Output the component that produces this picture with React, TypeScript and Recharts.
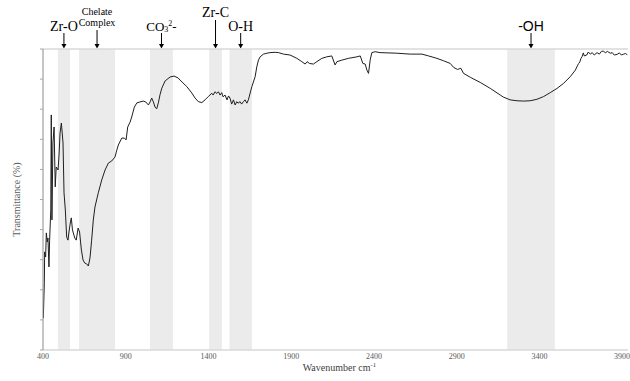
import {
  LineChart,
  Line,
  XAxis,
  YAxis,
  ReferenceArea,
  ReferenceLine,
} from "recharts";

// FTIR spectrum
const wavenumber = [
  402, 408, 410, 416, 420, 426, 430, 436, 440, 447, 450, 454, 460, 467, 474, 480,
  491, 497, 503, 511, 521, 527, 535, 543, 551, 557, 565, 571, 578, 592, 601, 612,
  621, 632, 642, 652, 664, 674, 684, 694, 704, 714, 734, 755, 775, 795, 815, 835,
  846, 855, 876, 892, 902, 912, 926, 936, 952, 967, 986, 1006, 1021, 1037, 1047, 1057,
  1067, 1077, 1087, 1097, 1107, 1118, 1138, 1168, 1192, 1216, 1228, 1269, 1299, 1319,
  1339, 1360, 1379, 1399, 1420, 1428, 1440, 1449, 1460, 1470, 1480, 1488, 1500, 1512,
  1521, 1530, 1540, 1551, 1561, 1571, 1579, 1591, 1600, 1611, 1621, 1632, 1641, 1652,
  1662, 1682, 1692, 1702, 1712, 1732, 1753, 1772, 1803, 1823, 1853, 1893, 1934, 1964,
  1984, 1996, 2010, 2034, 2055, 2085, 2115, 2145, 2165, 2176, 2206, 2246, 2297, 2317,
  2333, 2347, 2357, 2367, 2377, 2387, 2407, 2437, 2538, 2619, 2690, 2730, 2780, 2820,
  2861, 2881, 2905, 2925, 2941, 2982, 3042, 3103, 3163, 3183, 3223, 3264, 3304, 3344,
  3385, 3425, 3465, 3506, 3546, 3586, 3617, 3629, 3637, 3644, 3650, 3657, 3665, 3671,
  3686, 3695, 3707, 3719, 3731, 3748, 3762, 3774, 3788, 3798, 3810, 3828, 3840, 3852,
  3869, 3883, 3895, 3909, 3919, 3931,
];

const transmittance = [
  10.6, 22.3, 32.6, 30.9, 38.9, 35.9, 37.2, 27.6, 36.5, 46.5, 78.1, 43.2, 68.8, 74.1, 54.2, 60.8,
  59.8, 64.8, 72.1, 75.4, 68.8, 52.2, 46.5, 37.5, 36.5, 39.2, 42.2, 43.9, 39.9, 37.2, 36.5, 40.5,
  39.2, 33.2, 29.9, 28.9, 28.6, 27.9, 30.6, 36.5, 43.2, 47.5, 52.2, 56.5, 59.8, 62.1, 62.8, 64.1,
  66.4, 68.1, 70.4, 70.4, 69.8, 74.1, 75.7, 77.4, 80.7, 82.1, 82.4, 82.7, 82.4, 81.4, 82.4, 83.7,
  82.4, 80.7, 80.1, 82.1, 84.8, 87.0, 89.4, 90.7, 91.0, 90.4, 89.7, 87.5, 85.4, 83.7,
  82.5, 82.2, 83.1, 84.2, 85.3, 84.7, 85.8, 85.2, 85.8, 84.7, 85.5, 84.1, 84.7, 83.1,
  84.4, 83.7, 81.7, 83.1, 81.4, 82.5, 82.0, 82.5, 81.7, 82.5, 83.1, 82.0, 83.1, 85.4,
  87.5, 90.8, 94.1, 96.3, 97.4, 98.3, 98.6, 98.8, 98.9, 98.8, 98.3, 98.0, 96.9, 95.8,
  95.0, 95.8, 95.2, 95.0, 95.8, 96.9, 97.4, 97.7, 94.7, 95.8, 96.3, 96.9, 97.4, 97.7,
  95.2, 95.0, 93.0, 91.9, 96.3, 98.8, 99.1, 98.8, 98.6, 98.3, 98.3, 97.7, 96.9, 96.1,
  95.2, 93.9, 93.2, 93.6, 91.9, 90.6, 88.9, 86.9, 84.7, 84.0, 83.1, 82.8, 82.7, 82.8,
  83.3, 84.2, 85.5, 86.9, 88.6, 90.8, 93.0, 94.4, 95.2, 95.7, 96.8, 97.4, 98.7, 97.7,
  98.0, 99.0, 98.3, 98.8, 98.0, 98.8, 98.3, 99.2, 99.3, 98.7, 99.2, 98.6, 98.8, 98.0,
  98.2, 98.7, 98.0, 98.3, 98.5, 98.1,
];

const xTicks = [400, 900, 1400, 1900, 2400, 2900, 3400, 3900];
const yTicks = [0, 10, 20, 30, 40, 50, 60, 70, 80, 90, 100];

// assigned bands
const bandNames = ["Zr-O", "Chelate Complex", "CO3 2-", "Zr-C", "O-H", "-OH"];
const bandFrom = [490, 618, 1047, 1404, 1527, 3205];
const bandTo = [563, 835, 1185, 1481, 1662, 3493];

const rows = wavenumber.map((wn, i) => ({ wn, t: transmittance[i] }));

const serif = "'Liberation Serif', 'DejaVu Serif', serif";
const sans = "'Liberation Sans', Arial, sans-serif";

// label placement: text baselines and where the arrow starts
const labelLook: Record<string, { size: number; base: number[]; from: number; font: string }> = {
  "Zr-O": { size: 14, base: [31], from: 33, font: serif },
  "Chelate Complex": { size: 10, base: [15, 26], from: 30, font: serif },
  "CO3 2-": { size: 13, base: [31], from: 33, font: serif },
  "Zr-C": { size: 14, base: [16.5], from: 20, font: serif },
  "O-H": { size: 14, base: [31], from: 33, font: serif },
  "-OH": { size: 14, base: [31], from: 33, font: sans },
};

function BandMark(props: any) {
  const { viewBox, name } = props;
  if (!viewBox) return null;
  const cx = viewBox.x + viewBox.width / 2;
  const top = viewBox.y;
  const look = labelLook[name];
  let text;
  if (name === "CO3 2-") {
    text = (
      <text x={cx} y={look.base[0]} textAnchor="middle" fontFamily={look.font} fontSize={look.size} fill="#000">
        CO
        <tspan fontSize={8} dy={1}>3</tspan>
        <tspan fontSize={8} dy={-6}>2</tspan>
        <tspan dy={5}>-</tspan>
      </text>
    );
  } else {
    const lines = name === "Chelate Complex" ? ["Chelate", "Complex"] : [name];
    text = lines.map((ln, i) => (
      <text key={ln} x={cx} y={look.base[i]} textAnchor="middle" fontFamily={look.font} fontSize={look.size} fill="#000">
        {ln}
      </text>
    ));
  }
  return (
    <g>
      {text}
      <line x1={cx} x2={cx} y1={look.from} y2={top - 5} stroke="#000" strokeWidth={1} />
      <polygon points={`${cx - 2.5},${top - 5} ${cx + 2.5},${top - 5} ${cx},${top - 0.5}`} fill="#000" />
    </g>
  );
}

export default function App() {
  return (
    <div style={{ position: "absolute", left: 0, top: 0 }}>
      <LineChart
        width={630}
        height={381}
        data={rows}
        margin={{ top: 49, right: 2, bottom: 0, left: 0 }}
        style={{ fontFamily: serif }}
      >
        {bandNames.map((name, i) => (
          <ReferenceArea
            key={name}
            x1={bandFrom[i]}
            x2={bandTo[i]}
            y1={0}
            y2={100}
            fill="#ebebeb"
            fillOpacity={1}
            stroke="none"
            label={(p: any) => <BandMark {...p} name={name} />}
          />
        ))}
        <ReferenceLine y={100} stroke="#d9d9d9" strokeWidth={1.5} />
        <XAxis
          type="number"
          dataKey="wn"
          domain={[400, 3935]}
          ticks={xTicks}
          allowDataOverflow
          height={31}
          tickLine={false}
          tickSize={2}
          tickMargin={1}
          axisLine={{ stroke: "#d9d9d9", strokeWidth: 1.5 }}
          tick={{ fontSize: 8, fill: "#595959", fontFamily: serif }}
          label={(p: any) => {
            const vb = p.viewBox;
            if (!vb) return null;
            return (
              <text x={vb.x + vb.width / 2 + 4} y={371} textAnchor="middle" fontFamily={serif} fontSize={10} fill="#404040">
                Wavenumber  cm
                <tspan fontSize={7} dy={-4}>-1</tspan>
              </text>
            );
          }}
        />
        <YAxis
          type="number"
          domain={[0, 100]}
          ticks={yTicks}
          width={43}
          tickSize={3}
          tick={() => <g />}
          tickLine={{ stroke: "#a6a6a6" }}
          axisLine={{ stroke: "#8c8c8c" }}
          label={(p: any) => {
            const vb = p.viewBox;
            if (!vb) return null;
            const cy = vb.y + vb.height / 2;
            return (
              <text x={18} y={cy} transform={`rotate(-90 18 ${cy})`} textAnchor="middle" dominantBaseline="middle" fontFamily={serif} fontSize={10} fill="#595959">
                Transmittance  (%)
              </text>
            );
          }}
        />
        <Line
          type="linear"
          dataKey="t"
          stroke="#1f1f1f"
          strokeWidth={1}
          dot={false}
          isAnimationActive={false}
        />
      </LineChart>
    </div>
  );
}
